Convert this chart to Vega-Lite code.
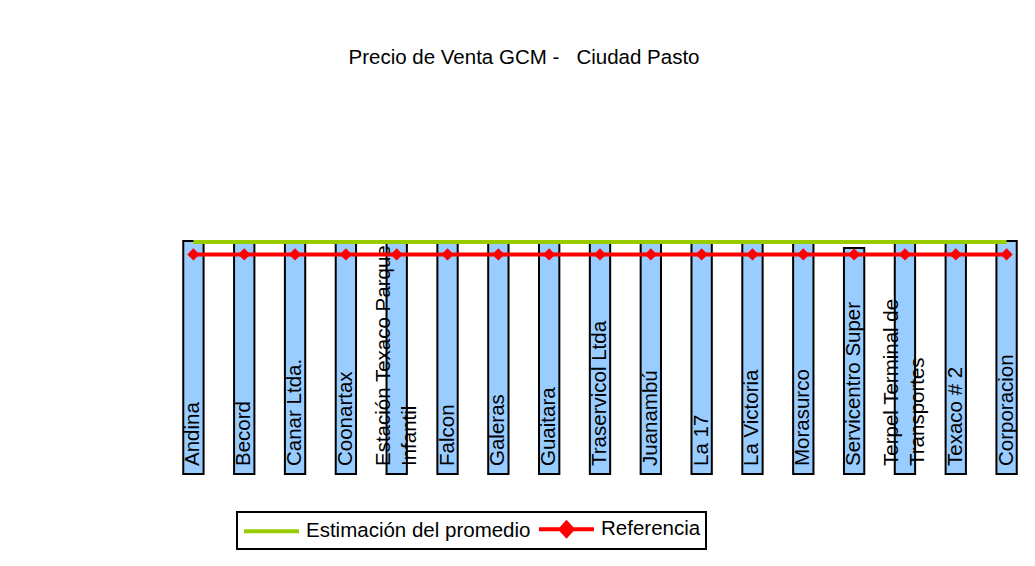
{
  "$schema": "https://vega.github.io/schema/vega-lite/v6.json",
  "width": 864,
  "height": 283,
  "autosize": {"type": "none"},
  "padding": {"left": 168, "top": 191, "right": 3, "bottom": 92},
  "background": "#ffffff",
  "title": {
    "text": "Precio de Venta GCM -\u00a0\u00a0 Ciudad Pasto",
    "anchor": "middle",
    "frame": "group",
    "dx": -76,
    "offset": 107,
    "baseline": "alphabetic",
    "fontSize": 20.5,
    "fontWeight": "normal",
    "color": "#000000"
  },
  "config": {
    "font": "Liberation Sans",
    "view": {"stroke": null},
    "legend": {"strokeWidth": 2},
    "axisY": {
      "grid": false,
      "labelOverlap": false,
      "domainColor": "#000000",
      "domainWidth": 2,
      "tickColor": "#000000",
      "tickWidth": 2,
      "tickSize": 6,
      "labelPadding": 10,
      "labelFontSize": 20,
      "labelColor": "#000000",
      "titleFontSize": 20,
      "titleFontWeight": "normal",
      "titleColor": "#000000",
      "titlePadding": 13
    }
  },
  "data": {
    "values": [
      {"estacion": "Andina", "precio": 4058, "promedio": 4050, "referencia": 3940},
      {"estacion": "Becord", "precio": 4058, "promedio": 4050, "referencia": 3940},
      {"estacion": "Canar Ltda.", "precio": 4058, "promedio": 4050, "referencia": 3940},
      {"estacion": "Coonartax", "precio": 4058, "promedio": 4050, "referencia": 3940},
      {"estacion": "Estación Texaco Parque\nInfantil", "precio": 4058, "promedio": 4050, "referencia": 3940},
      {"estacion": "Falcon", "precio": 4058, "promedio": 4050, "referencia": 3940},
      {"estacion": "Galeras", "precio": 4058, "promedio": 4050, "referencia": 3940},
      {"estacion": "Guaitara", "precio": 4058, "promedio": 4050, "referencia": 3940},
      {"estacion": "Traservicol Ltda", "precio": 4058, "promedio": 4050, "referencia": 3940},
      {"estacion": "Juanambú", "precio": 4058, "promedio": 4050, "referencia": 3940},
      {"estacion": "La 17", "precio": 4058, "promedio": 4050, "referencia": 3940},
      {"estacion": "La Victoria", "precio": 4058, "promedio": 4050, "referencia": 3940},
      {"estacion": "Morasurco", "precio": 4058, "promedio": 4050, "referencia": 3940},
      {"estacion": "Servicentro Super", "precio": 3996, "promedio": 4050, "referencia": 3940},
      {"estacion": "Terpel Terminal de\nTransportes", "precio": 4058, "promedio": 4050, "referencia": 3940},
      {"estacion": "Texaco # 2", "precio": 4058, "promedio": 4050, "referencia": 3940},
      {"estacion": "Corporacion", "precio": 4058, "promedio": 4050, "referencia": 3940}
    ]
  },
  "encoding": {
    "x": {
      "field": "estacion",
      "type": "nominal",
      "sort": null,
      "scale": {"paddingInner": 0.6, "paddingOuter": 0.3},
      "axis": null
    }
  },
  "layer": [
    {
      "mark": {"type": "bar", "fill": "#99CCFF", "stroke": "#000000", "strokeWidth": 2},
      "encoding": {
        "y": {
          "field": "precio",
          "type": "quantitative",
          "title": "$/galón",
          "scale": {"domain": [2000, 4500], "nice": false, "zero": false},
          "axis": {"values": [2000, 2250, 2500, 2750, 3000, 3250, 3500, 3750, 4000, 4250, 4500], "format": "d"}
        },
        "y2": {"datum": 2000}
      }
    },
    {
      "transform": [{"filter": "indexof(datum.estacion, '\\n') < 0"}],
      "mark": {"type": "text", "angle": 270, "align": "left", "baseline": "middle", "fontSize": 20.5, "yOffset": -8, "color": "#000000"},
      "encoding": {
        "y": {"value": "height"},
        "text": {"field": "estacion"}
      }
    },
    {
      "transform": [{"filter": "indexof(datum.estacion, '\\n') >= 0"}],
      "mark": {"type": "text", "angle": 270, "align": "left", "baseline": "middle", "fontSize": 20.5, "lineBreak": "\n", "lineHeight": 26, "yOffset": -8, "xOffset": -13, "color": "#000000"},
      "encoding": {
        "y": {"value": "height"},
        "text": {"field": "estacion"}
      }
    },
    {
      "transform": [{"fold": ["promedio", "referencia"], "as": ["clave", "valor"]}, {"lookup": "clave", "from": {"data": {"values": [{"clave": "promedio", "serie": "Estimación del promedio"}, {"clave": "referencia", "serie": "Referencia"}]}, "key": "clave", "fields": ["serie"]}}],
      "mark": {"type": "line", "strokeWidth": 4},
      "encoding": {
        "y": {"field": "valor", "type": "quantitative", "title": "$/galón", "axis": null},
        "color": {
          "field": "serie",
          "type": "nominal",
          "scale": {"domain": ["Estimación del promedio", "Referencia"], "range": ["#99CC00", "#FF0000"]},
          "legend": {
            "orient": "none",
            "legendX": 69,
            "legendY": 321,
            "direction": "horizontal",
            "title": null,
            "strokeColor": "#000000",
            "padding": 5,
            "labelFontSize": 20.5,
            "labelColor": "#000000",
            "labelLimit": 0,
            "labelOffset": 40,
            "columnPadding": 0,
            "symbolType": "M-1,0L4.5,0",
            "symbolSize": 400,
            "symbolStrokeWidth": 4,
            "encode": {
              "symbols": {
                "update": {
                  "shape": {"signal": "datum.value === 'Referencia' ? 'M-1,0L4.5,0M1.15,0L1.75,-0.65L2.35,0L1.75,0.65Z' : 'M-1,0L4.5,0'"},
                  "fill": {"signal": "datum.value === 'Referencia' ? '#FF0000' : 'transparent'"}
                }
              }
            }
          }
        }
      }
    },
    {
      "mark": {"type": "point", "shape": "diamond", "filled": true, "size": 150, "color": "#FF0000", "opacity": 1},
      "encoding": {
        "y": {"field": "referencia", "type": "quantitative", "title": "$/galón", "axis": null}
      }
    }
  ]
}
